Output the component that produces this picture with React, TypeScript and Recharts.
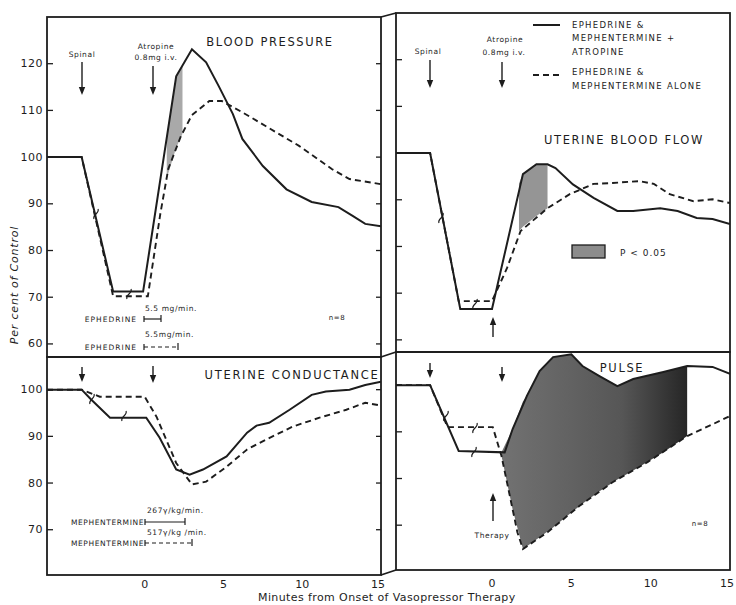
import { Area, ComposedChart, Line, XAxis, YAxis } from "recharts";

const xTicks = [0, 5, 10, 15];
const upperTicks = [60, 70, 80, 90, 100, 110, 120];
const lowerTicks = [70, 80, 90, 100];

// [minutes, per cent of control]
const bpSolid = [
  [-6.2, 100], [-4.0, 100], [-2.0, 71.2], [-0.1, 71.2], [2.0, 117.3], [3.0, 123.1], [3.9, 120.3],
  [4.7, 115.2], [5.6, 109.2], [6.2, 103.9], [7.5, 98.1], [9.0, 93.1], [10.6, 90.4], [12.3, 89.3],
  [13.2, 87.4], [14.0, 85.7], [15, 85.2],
];
const bpDashed = [
  [-6.2, 100], [-4.0, 100], [-2.0, 70.2], [0.2, 70.2], [1.0, 88], [1.5, 97.5], [2.3, 104.5],
  [3.0, 109], [4.1, 112], [4.9, 112], [6.2, 109.6], [7.7, 106.6], [9.8, 102.4], [11.9, 97.4],
  [13.0, 95.3], [15, 94.2],
];
// [minutes, low, high]
const bpShade = [[1.4, 95.5, 104], [2.0, 102, 117.3], [2.4, 105, 119.5]];

const ubfSolid = [
  [-6.05, 100], [-3.9, 100], [-2.0, 66.6], [0, 66.6], [1.95, 95.5], [2.8, 97.6], [3.5, 97.6],
  [4.0, 96.8], [5.1, 93.3], [6.4, 90.4], [7.9, 87.6], [8.9, 87.6], [10.6, 88.2], [11.7, 87.6],
  [12.9, 86.1], [13.9, 85.9], [15, 84.8],
];
const ubfDashed = [
  [-6.05, 100], [-3.9, 100], [-2.1, 68.3], [0, 68.3], [0.95, 75.4], [1.8, 83.3], [3.5, 88.2],
  [4.9, 91.2], [6.4, 93.4], [7.6, 93.6], [9.3, 94], [10.2, 93.4], [11.2, 91.2], [12.7, 89.7],
  [13.9, 90.1], [15, 89.3],
];
const ubfShade = [[1.7, 83.3, 93.5], [1.95, 84.2, 95.5], [2.8, 86.5, 97.6], [3.5, 88.2, 97.6]];

const ucSolid = [
  [-6.2, 100], [-4.0, 100], [-3.4, 97.9], [-2.2, 94], [0.1, 94], [0.95, 89.7], [2.0, 82.9],
  [2.85, 81.8], [3.7, 82.9], [5.2, 85.7], [6.5, 90.8], [7.1, 92.3], [7.9, 92.9], [9.2, 95.7],
  [10.6, 98.9], [11.5, 99.6], [13.0, 100], [14.0, 101], [15, 101.7],
];
const ucDashed = [
  [-6.2, 100], [-4.0, 100], [-2.85, 98.5], [0, 98.5], [0.75, 94.2], [2.0, 84.3], [3.0, 79.7],
  [3.9, 80.3], [5.2, 83.5], [6.5, 87.2], [7.7, 89.3], [9.4, 92.1], [11.1, 94], [12.8, 95.7],
  [14.0, 97.2], [15, 96.6],
];

const pulseSolid = [
  [-6.05, 100], [-3.9, 100], [-2.1, 85.9], [0.8, 85.6], [1.3, 90.6], [2.2, 97.7], [3.0, 103],
  [3.85, 106], [5.0, 106.6], [5.7, 104.1], [6.8, 101.9], [7.9, 99.8], [8.9, 101.3], [10.8, 102.8],
  [12.3, 104.1], [13.9, 103.9], [15, 102.4],
];
const pulseDashed = [
  [-6.05, 100], [-3.9, 100], [-2.8, 91], [0.05, 91], [0.6, 84.8], [1.6, 68.5], [1.95, 64.9],
  [3.5, 68.5], [5.5, 74.1], [7.6, 79.2], [9.8, 83.5], [12.3, 89.1], [13.9, 91.6], [15, 93.4],
];
const pulseShade = [
  [0.6, 84.8, 85.6], [1.3, 73.4, 90.6], [1.95, 64.9, 96.5], [2.2, 65.5, 97.7], [3.0, 67.4, 103],
  [3.85, 69.5, 106], [5.0, 72.7, 106.6], [5.7, 74.6, 104.1], [6.8, 77.3, 101.9], [7.9, 79.8, 99.8],
  [8.9, 81.7, 101.3], [10.8, 85.6, 102.8], [12.3, 89.1, 104.1],
];

const pts = (rows: number[][]) => rows.map(([t, v]) => ({ t, v }));
const band = (rows: number[][]) => rows.map(([t, lo, hi]) => ({ t, r: [lo, hi] }));

const INK = "#1d1d1d";
const FONT = "'DejaVu Sans', sans-serif";
const AXIS_W = 40;
const PAD = 5;
const PAD_R = 14;
const XAXIS_H = 25;

type Box = { left: number; top: number; width: number; height: number };

function Panel(props: {
  box: Box;
  xDomain: [number, number];
  yDomain: [number, number];
  yTicks: number[];
  yLabels?: boolean;
  rightTicks?: boolean;
  xLabels?: boolean;
  xLabelDy?: number;
  children: any;
}) {
  const { box, xDomain, yDomain, yTicks, yLabels, rightTicks, xLabels, xLabelDy = 10, children } = props;
  const YTick = (p: any) => (
    <g>
      <line x1={AXIS_W} x2={AXIS_W + 6} y1={p.y} y2={p.y} stroke={INK} strokeWidth={1.3} />
      {rightTicks && (
        <line x1={AXIS_W + box.width - 5} x2={AXIS_W + box.width} y1={p.y} y2={p.y} stroke={INK} strokeWidth={1.3} />
      )}
      {yLabels && (
        <text x={AXIS_W - 4} y={p.y} textAnchor="end" dominantBaseline="central" fontFamily={FONT} fontSize={11} fill={INK} letterSpacing={0.5}>
          {p.payload.value}
        </text>
      )}
    </g>
  );
  // the last label sits on the frame, nudge it inwards a little like the original
  const XTick = (p: any) =>
    xLabels ? (
      <text
        x={p.payload.value === xTicks[xTicks.length - 1] ? p.x - 3 : p.x}
        y={PAD + box.height + xLabelDy}
        textAnchor="middle"
        dominantBaseline="central"
        fontFamily={FONT}
        fontSize={11}
        fill={INK}
      >
        {p.payload.value}
      </text>
    ) : (
      <g />
    );
  return (
    <div style={{ position: "absolute", left: box.left - AXIS_W, top: box.top - PAD }}>
      <ComposedChart
        width={AXIS_W + box.width + PAD_R}
        height={PAD + box.height + XAXIS_H}
        margin={{ top: PAD, right: PAD_R, bottom: 0, left: 0 }}
      >
        <defs>
          <linearGradient id="pulseShade" x1="0" x2="1" y1="0" y2="0">
            <stop offset="0%" stopColor="#727272" />
            <stop offset="65%" stopColor="#565656" />
            <stop offset="100%" stopColor="#262626" />
          </linearGradient>
        </defs>
        <XAxis type="number" dataKey="t" domain={xDomain} ticks={xTicks} interval={0} allowDataOverflow axisLine={false} tickLine={false} tick={XTick} height={XAXIS_H} />
        <YAxis type="number" domain={yDomain} ticks={yTicks} interval={0} allowDataOverflow axisLine={false} tickLine={false} tick={YTick} width={AXIS_W} />
        {children}
      </ComposedChart>
    </div>
  );
}

const solidProps = { type: "linear" as const, dataKey: "v", stroke: INK, strokeWidth: 2, dot: false, activeDot: false, isAnimationActive: false };
const dashedProps = { ...solidProps, strokeDasharray: "6 4", strokeWidth: 1.9 };
const shadeProps = { type: "linear" as const, dataKey: "r", stroke: "none", dot: false, activeDot: false, isAnimationActive: false, fillOpacity: 1 };

function Arrow({ x, y1, y2, w = 1.4 }: { x: number; y1: number; y2: number; w?: number }) {
  const d = y2 > y1 ? 1 : -1;
  return (
    <g>
      <line x1={x} x2={x} y1={y1} y2={y2 - d * 5} stroke={INK} strokeWidth={w} />
      <polygon points={`${x - 3.2},${y2 - d * 8} ${x + 3.2},${y2 - d * 8} ${x},${y2}`} fill={INK} />
    </g>
  );
}

function T({ x, y, s = 8, a = "start", ls = 0.6, children, w = 400, it = false }: any) {
  return (
    <text x={x} y={y} fontSize={s} textAnchor={a} letterSpacing={ls} fontFamily={FONT} fill={INK} fontWeight={w} fontStyle={it ? "italic" : "normal"}>
      {children}
    </text>
  );
}

function Bar({ x1, x2, y, dashed = false }: { x1: number; x2: number; y: number; dashed?: boolean }) {
  return (
    <g stroke={INK} strokeWidth={1.2}>
      <line x1={x1} x2={x2} y1={y} y2={y} strokeDasharray={dashed ? "4 3" : undefined} />
      <line x1={x1} x2={x1} y1={y - 3} y2={y + 3} />
      <line x1={x2} x2={x2} y1={y - 4} y2={y + 3} />
    </g>
  );
}

// small S-shaped break marks drawn across the curves
function Brk({ x, y }: { x: number; y: number }) {
  return (
    <path
      d={`M ${x - 2} ${y + 5} C ${x - 4} ${y + 1}, ${x + 4} ${y - 1}, ${x + 2} ${y - 5}`}
      fill="none"
      stroke={INK}
      strokeWidth={1.2}
    />
  );
}

function Overlay() {
  return (
    <svg width={736} height={605} style={{ position: "absolute", left: 0, top: 0, pointerEvents: "none" }}>
      {/* frames */}
      <g stroke={INK} strokeWidth={1.8} fill="none">
        <rect x={47} y={17} width={334} height={340} />
        <rect x={396} y={13} width={334} height={339} />
        <rect x={47} y={357} width={334} height={218} />
        <rect x={396} y={352} width={334} height={218} />
        <line x1={381} x2={396} y1={17} y2={13} />
        <line x1={381} x2={396} y1={357} y2={352} />
        <line x1={381} x2={396} y1={575} y2={570} />
      </g>

      {/* blood pressure */}
      <T x={82} y={57} a="middle" s={7.5}>Spinal</T>
      <Arrow x={82} y1={62} y2={95} />
      <T x={156} y={49} a="middle" s={7.5}>Atropine</T>
      <T x={156} y={60} a="middle" s={7.5}>0.8mg i.v.</T>
      <Arrow x={153} y1={66} y2={95} />
      <T x={270} y={46} a="middle" s={11.5} ls={1.6}>BLOOD PRESSURE</T>
      <Brk x={96} y={214} />
      <Brk x={129} y={294} />
      <T x={337} y={320} a="middle" s={7}>n=8</T>
      <T x={145} y={311} s={7.5}>5.5 mg/min.</T>
      <T x={137} y={322} a="end" s={7.5} ls={1}>EPHEDRINE</T>
      <Bar x1={144} x2={161} y={319} />
      <T x={145} y={337} s={7.5}>5.5mg/min.</T>
      <T x={137} y={350} a="end" s={7.5} ls={1}>EPHEDRINE</T>
      <Bar x1={144} x2={178} y={347} dashed />

      {/* uterine blood flow + legend */}
      <line x1={533} x2={560} y1={25} y2={25} stroke={INK} strokeWidth={2} />
      <T x={572} y={28} s={8.5} ls={1.3}>EPHEDRINE &amp;</T>
      <T x={572} y={41} s={8.5} ls={1.3}>MEPHENTERMINE  +</T>
      <T x={572} y={55} s={8.5} ls={1.3}>ATROPINE</T>
      <line x1={533} x2={560} y1={75} y2={75} stroke={INK} strokeWidth={2} strokeDasharray="6 4" />
      <T x={572} y={75} s={8.5} ls={1.3}>EPHEDRINE &amp;</T>
      <T x={572} y={89} s={8.5} ls={1.3}>MEPHENTERMINE  ALONE</T>
      <T x={428} y={54} a="middle" s={7.5}>Spinal</T>
      <Arrow x={430} y1={60} y2={88} />
      <T x={505} y={42} a="middle" s={7.5}>Atropine</T>
      <T x={504} y={55} a="middle" s={7.5}>0.8mg i.v.</T>
      <Arrow x={502} y1={62} y2={88} />
      <T x={624} y={144} a="middle" s={11.5} ls={1.6}>UTERINE BLOOD FLOW</T>
      <Brk x={441} y={218} />
      <Brk x={475} y={304} />
      <rect x={572} y={245} width={33} height={13} fill="#8c8c8c" stroke={INK} strokeWidth={1.3} />
      <T x={620} y={256} s={9} ls={1}>P &lt; 0.05</T>
      <Arrow x={493} y1={337} y2={317} />

      {/* uterine conductance */}
      <Arrow x={82} y1={367} y2={382} />
      <Arrow x={153} y1={366} y2={383} />
      <T x={292} y={379} a="middle" s={11.5} ls={1.7}>UTERINE CONDUCTANCE</T>
      <Brk x={92} y={399} />
      <Brk x={124} y={416} />
      <T x={147} y={513} s={7.5}>267γ/kg/min.</T>
      <T x={144} y={525} a="end" s={7.5} ls={0.6}>MEPHENTERMINE</T>
      <Bar x1={145} x2={185} y={522} />
      <T x={147} y={535} s={7.5}>517γ/kg /min.</T>
      <T x={144} y={546} a="end" s={7.5} ls={0.6}>MEPHENTERMINE</T>
      <Bar x1={145} x2={192} y={543} dashed />

      {/* pulse */}
      <Arrow x={430} y1={363} y2={378} />
      <Arrow x={502} y1={367} y2={382} />
      <T x={622} y={372} a="middle" s={11.5} ls={1.6}>PULSE</T>
      <Brk x={446} y={416} />
      <Brk x={475} y={428} />
      <Brk x={474} y={452} />
      <Arrow x={493} y1={521} y2={493} />
      <T x={492} y={538} a="middle" s={7.5}>Therapy</T>
      <T x={700} y={526} a="middle" s={7}>n=8</T>

      {/* axis titles */}
      <T x={258} y={601} s={11} ls={0.4}>Minutes from Onset of Vasopressor Therapy</T>
      <g transform="translate(18,285) rotate(-90)">
        <T x={0} y={0} a="middle" s={11} ls={0.8} it>Per cent of Control</T>
      </g>
    </svg>
  );
}

export default function App() {
  return (
    <div style={{ position: "absolute", left: 0, top: 0, width: 736, height: 605, background: "#ffffff", overflow: "hidden" }}>
      <Panel box={{ left: 47, top: 17, width: 334, height: 340 }} xDomain={[-6.2, 15]} yDomain={[57.2, 130]} yTicks={upperTicks} yLabels rightTicks>
        <Area data={band(bpShade)} {...shadeProps} fill="#a9a9a9" />
        <Line data={pts(bpDashed)} {...dashedProps} />
        <Line data={pts(bpSolid)} {...solidProps} />
      </Panel>
      <Panel box={{ left: 396, top: 13, width: 334, height: 339 }} xDomain={[-6.05, 15]} yDomain={[57.4, 130]} yTicks={upperTicks}>
        <Area data={band(ubfShade)} {...shadeProps} fill="#959595" />
        <Line data={pts(ubfDashed)} {...dashedProps} />
        <Line data={pts(ubfSolid)} {...solidProps} />
      </Panel>
      <Panel box={{ left: 47, top: 357, width: 334, height: 218 }} xDomain={[-6.2, 15]} yDomain={[60.3, 107]} yTicks={lowerTicks} yLabels rightTicks xLabels xLabelDy={9}>
        <Line data={pts(ucDashed)} {...dashedProps} />
        <Line data={pts(ucSolid)} {...solidProps} />
      </Panel>
      <Panel box={{ left: 396, top: 352, width: 334, height: 218 }} xDomain={[-6.05, 15]} yDomain={[60.4, 107.1]} yTicks={lowerTicks} xLabels xLabelDy={13}>
        <Area data={band(pulseShade)} {...shadeProps} fill="url(#pulseShade)" />
        <Line data={pts(pulseDashed)} {...dashedProps} />
        <Line data={pts(pulseSolid)} {...solidProps} />
      </Panel>
      <Overlay />
    </div>
  );
}
